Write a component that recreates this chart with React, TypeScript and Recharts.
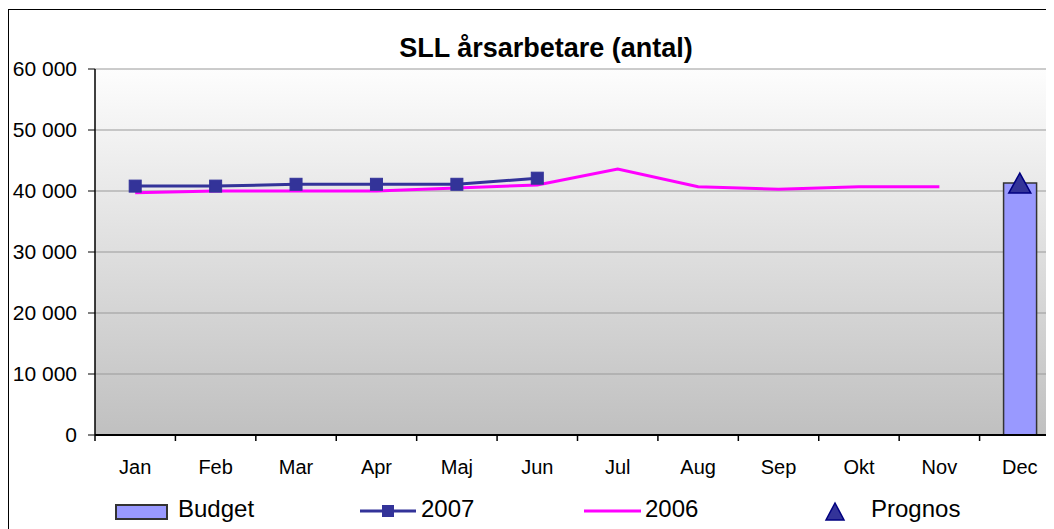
import React from 'react';
import {
  ComposedChart,
  Bar,
  Line,
  XAxis,
  YAxis,
  CartesianGrid,
} from 'recharts';

const months = ['Jan', 'Feb', 'Mar', 'Apr', 'Maj', 'Jun', 'Jul', 'Aug', 'Sep', 'Okt', 'Nov', 'Dec'];
const budget = [null, null, null, null, null, null, null, null, null, null, null, 41300];
const sales2007 = [40800, 40800, 41100, 41100, 41100, 42100, null, null, null, null, null, null];
const sales2006 = [39700, 40000, 40000, 40000, 40500, 41000, 43600, 40700, 40300, 40700, 40700, null];
const prognos = [null, null, null, null, null, null, null, null, null, null, null, 41300];
const yTicks = [0, 10000, 20000, 30000, 40000, 50000, 60000];

const data = months.map((m, i) => ({
  month: m,
  budget: budget[i],
  y2007: sales2007[i],
  y2006: sales2006[i],
  prognos: prognos[i],
}));

const FONT = '"Liberation Sans", Arial, sans-serif';
const CHART_W = 1080;
const CHART_H = 520;
const M = { top: 59, right: 29, bottom: 55, left: 0 };
const Y_W = 86;
const BAND = (CHART_W - M.right - M.left - Y_W) / months.length;

const fmt = (v: number) => String(v).replace(/\B(?=(\d{3})+(?!\d))/g, ' ');

// excel style: tick marks sit between categories
const XTick = (props: any) => {
  const { x, y, payload } = props;
  return (
    <g>
      <line x1={x - BAND / 2} x2={x - BAND / 2} y1={y} y2={y + 6} stroke="#000" strokeWidth={1.5} />
      <text x={x} y={y + 39} textAnchor="middle" fontSize={20} fontFamily={FONT} fill="#000">
        {payload.value}
      </text>
    </g>
  );
};

const Square = (props: any) => {
  const { cx, cy, index } = props;
  if (cx == null || cy == null || props.value == null) return <g key={index} />;
  return <rect key={index} x={cx - 6} y={cy - 6} width={12} height={12} fill="#333399" stroke="#333399" />;
};

const Triangle = (props: any) => {
  const { cx, cy, index } = props;
  if (cx == null || cy == null || props.value == null) return <g key={index} />;
  return (
    <polygon
      key={index}
      points={`${cx},${cy - 10} ${cx - 11},${cy + 10} ${cx + 11},${cy + 10}`}
      fill="#333399"
      stroke="#000080"
      strokeWidth={1.5}
    />
  );
};

const legendText: React.CSSProperties = {
  position: 'absolute',
  top: 484,
  fontSize: 24,
  fontFamily: FONT,
  lineHeight: '30px',
  color: '#000',
};

export default function App() {
  return (
    <div
      style={{
        marginTop: 1,
        width: 1046,
        height: 520,
        overflow: 'hidden',
        position: 'relative',
        borderLeft: '1px solid #000',
        borderTop: '1px solid #000',
        boxSizing: 'border-box',
        background: '#fff',
      }}
    >
      {/* plot area background */}
      <div
        style={{
          position: 'absolute',
          left: Y_W,
          top: M.top,
          width: CHART_W - M.right - Y_W,
          height: 366,
          background: 'linear-gradient(#fdfdfd, #c0c0c0)',
        }}
      />
      <div
        style={{
          position: 'absolute',
          left: 327,
          width: 420,
          top: 25,
          textAlign: 'center',
          fontFamily: FONT,
          fontWeight: 'bold',
          fontSize: 27,
          lineHeight: '27px',
          color: '#000',
          whiteSpace: 'nowrap',
        }}
      >
        SLL årsarbetare (antal)
      </div>
      <div style={{ position: 'absolute', left: 0, top: 0 }}>
        <ComposedChart width={CHART_W} height={CHART_H} data={data} margin={M} barCategoryGap={0}>
          <CartesianGrid vertical={false} stroke="#999" strokeWidth={1.2} />
          <XAxis
            dataKey="month"
            interval={0}
            tickSize={0}
            tickMargin={0}
            height={40}
            tickLine={false}
            axisLine={{ stroke: '#000', strokeWidth: 2 }}
            tick={<XTick />}
          />
          <YAxis
            width={Y_W}
            domain={[0, 60000]}
            ticks={yTicks}
            tickFormatter={fmt}
            tickSize={7}
            tickMargin={11}
            tick={{ fill: '#000', fontSize: 21, fontFamily: FONT }}
            tickLine={{ stroke: '#000' }}
            axisLine={{ stroke: '#000', strokeWidth: 1.5 }}
          />
          <Bar dataKey="budget" barSize={33} fill="#9999FF" stroke="#333" strokeWidth={1.5} isAnimationActive={false} />
          <Line dataKey="y2006" stroke="#FF00FF" strokeWidth={3} dot={false} isAnimationActive={false} />
          <Line dataKey="y2007" stroke="#333399" strokeWidth={3} dot={Square} isAnimationActive={false} />
          <Line dataKey="prognos" stroke="none" strokeWidth={0} dot={Triangle} activeDot={false} isAnimationActive={false} />
        </ComposedChart>
      </div>
      {/* legend */}
      <svg style={{ position: 'absolute', left: 0, top: 480 }} width={1046} height={40}>
        <rect x={107} y={15} width={51} height={14} fill="#9999FF" stroke="#333" strokeWidth={2} />
        <line x1={351} x2={407} y1={21} y2={21} stroke="#333399" strokeWidth={3} />
        <rect x={373} y={15} width={12} height={12} fill="#333399" />
        <line x1={575} x2={632} y1={21} y2={21} stroke="#FF00FF" strokeWidth={3} />
        <polygon points="826,13 817,30 835,30" fill="#333399" stroke="#000080" strokeWidth={1.5} />
      </svg>
      <div style={{ ...legendText, left: 169 }}>Budget</div>
      <div style={{ ...legendText, left: 412 }}>2007</div>
      <div style={{ ...legendText, left: 636 }}>2006</div>
      <div style={{ ...legendText, left: 862 }}>Prognos</div>
    </div>
  );
}
